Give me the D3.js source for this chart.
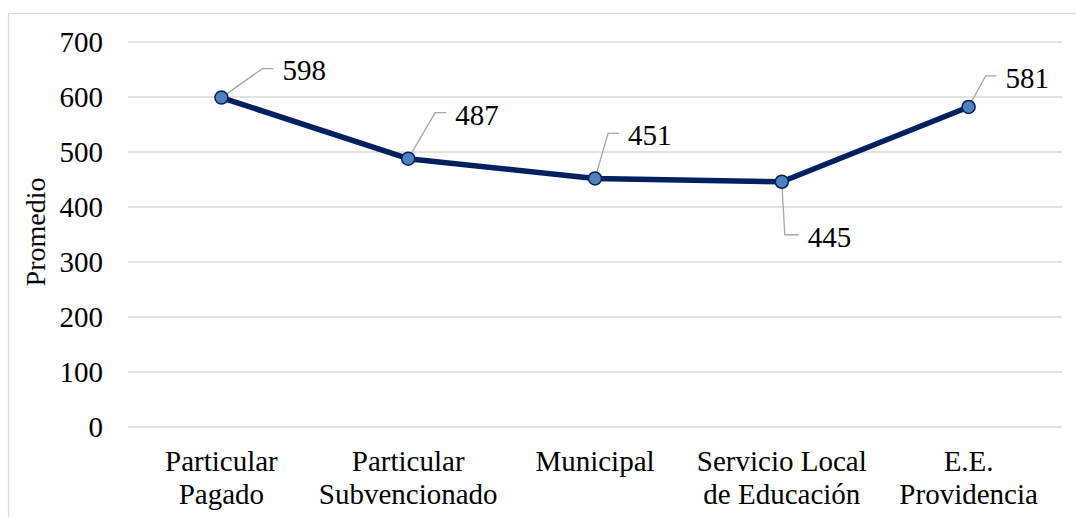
<!DOCTYPE html>
<html>
  <head>
    <meta charset="utf-8">
    <title>Promedio por dependencia</title>
    <script src="https://d3js.org/d3.v7.min.js"></script>
    <style>
      body { margin: 0; background: #fff; }
      text { font-family: "Liberation Serif", "Times New Roman", serif; fill: #000; }
    </style>
  </head>
  <body>
    <div id="chart"></div>
    <script>
      // data
      const categories = ["Particular Pagado", "Particular Subvencionado", "Municipal", "Servicio Local de Educación", "E.E. Providencia"];
      const tickLabels = [["Particular", "Pagado"], ["Particular", "Subvencionado"], ["Municipal"], ["Servicio Local", "de Educación"], ["E.E.", "Providencia"]];
      const promedio = [598, 487, 451, 445, 581];
      const yTicks = [0, 100, 200, 300, 400, 500, 600, 700];

      // where each data label was dragged to (offset from its point)
      const labelOffsets = [[61, -27], [47, -44], [33, -43], [26, 55], [37, -29]];

      const width = 1076, height = 517;
      const fontSize = 29;
      const svg = d3.select("#chart")
        .append("svg")
        .attr("width", width)
        .attr("height", height);

      // chart frame (runs off the right and bottom edge)
      svg.append("rect")
        .attr("x", 8.5).attr("y", 13.5)
        .attr("width", 1200).attr("height", 700)
        .attr("fill", "none")
        .attr("stroke", "#d9d9d9")
        .attr("stroke-width", 1.3);

      const x = d3.scaleBand()
        .domain(categories)
        .range([128, 1062]);

      const y = d3.scaleLinear()
        .domain([0, 700])
        .range([426.5, 41.5]);

      // y axis + gridlines
      const yAxis = svg.append("g")
        .attr("transform", "translate(128,0)")
        .call(d3.axisLeft(y).tickValues(yTicks).tickSize(-(1062 - 128)).tickPadding(25));
      yAxis.select(".domain").remove();
      yAxis.selectAll(".tick line").attr("stroke", "#d9d9d9").attr("stroke-width", 1.3);
      yAxis.selectAll(".tick text")
        .attr("font-size", fontSize)
        .attr("fill", "#000")
        .attr("dy", "0.34em");

      // x axis labels, two lines
      const xAxis = svg.append("g")
        .attr("transform", "translate(0,426.5)")
        .call(d3.axisBottom(x).tickSize(0).tickFormat(""));
      xAxis.select(".domain").remove();
      xAxis.selectAll(".tick text")
        .attr("font-size", fontSize)
        .attr("fill", "#000")
        .attr("y", 0).attr("dy", null)
        .each(function(d, i) {
          const t = d3.select(this);
          tickLabels[i].forEach((line, j) => {
            t.append("tspan").attr("x", 0).attr("y", 44 + j * 33).text(line);
          });
        });

      // axis title
      svg.append("text")
        .attr("transform", "translate(45,232) rotate(-90)")
        .attr("text-anchor", "middle")
        .attr("font-size", 28)
        .text("Promedio");

      const px = (d, i) => x(categories[i]) + x.bandwidth() / 2;

      // leader lines
      svg.append("g")
        .selectAll("path")
        .data(promedio)
        .join("path")
        .attr("fill", "none")
        .attr("stroke", "#a6a6a6")
        .attr("stroke-width", 1.3)
        .attr("d", (d, i) => {
          const x0 = px(d, i), y0 = y(d);
          const lx = x0 + labelOffsets[i][0], ly = y0 + labelOffsets[i][1] - 2;
          const elbow = i === 3 ? lx - 23 : lx - 20;
          return `M${x0},${y0}L${elbow},${ly}L${lx - 9},${ly}`;
        });

      // series line
      const line = d3.line()
        .x((d, i) => px(d, i))
        .y(d => y(d));

      svg.append("path")
        .datum(promedio)
        .attr("fill", "none")
        .attr("stroke", "#002060")
        .attr("stroke-width", 5.5)
        .attr("stroke-linejoin", "round")
        .attr("d", line);

      svg.append("g")
        .selectAll("circle")
        .data(promedio)
        .join("circle")
        .attr("cx", px)
        .attr("cy", d => y(d))
        .attr("r", 6.5)
        .attr("fill", "#4f81bd")
        .attr("stroke", "#002060")
        .attr("stroke-width", 1.5);

      // data labels
      svg.append("g")
        .selectAll("text")
        .data(promedio)
        .join("text")
        .attr("x", (d, i) => px(d, i) + labelOffsets[i][0])
        .attr("y", (d, i) => y(d) + labelOffsets[i][1])
        .attr("dy", "0.34em")
        .attr("font-size", fontSize)
        .text(d => d);
    </script>
  </body>
</html>
